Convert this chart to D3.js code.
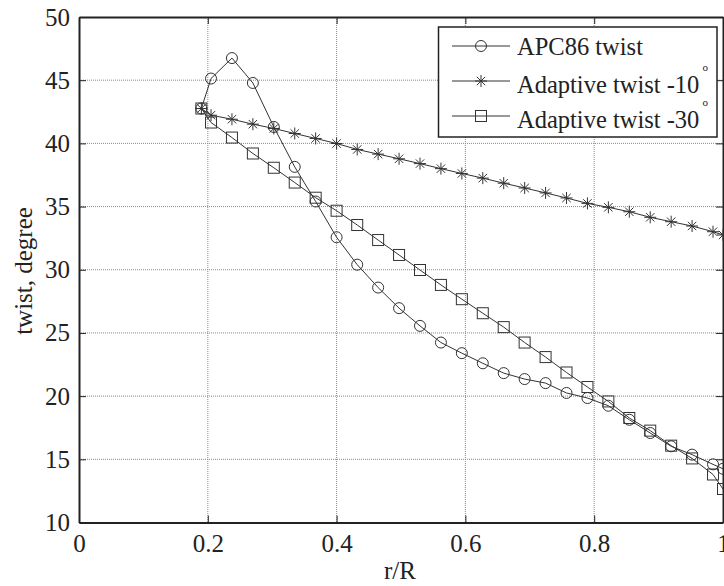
<!DOCTYPE html>
<html>
<head>
<meta charset="utf-8">
<script src="https://cdn.jsdelivr.net/npm/d3@7"></script>
<style>
  body { margin: 0; background: #fff; }
  text { font-family: "Liberation Serif", "Times New Roman", serif; fill: #222; }
</style>
</head>
<body>
<svg id="chart" width="724" height="586"></svg>
<script>
// r/R stations
const rR = [0.19, 0.205, 0.2375, 0.27, 0.3025, 0.335, 0.3675, 0.4, 0.432, 0.4645, 0.497, 0.5295, 0.562,
  0.5945, 0.627, 0.6595, 0.692, 0.7245, 0.757, 0.7895, 0.822, 0.8545, 0.887, 0.9195, 0.952, 0.9845, 1.0];

// twist, degree
const apc86 = [42.76, 45.13, 46.75, 44.78, 41.3, 38.14, 35.4, 32.57, 30.4, 28.59, 26.96, 25.56, 24.24,
  23.4, 22.6, 21.82, 21.35, 21.03, 20.25, 19.85, 19.24, 18.13, 17.08, 16.03, 15.37, 14.6, 14.25];
const adaptive10 = [42.76, 42.23, 41.91, 41.52, 41.18, 40.78, 40.39, 39.99, 39.52, 39.15, 38.78, 38.4, 38.0,
  37.62, 37.25, 36.85, 36.47, 36.08, 35.68, 35.25, 34.94, 34.59, 34.15, 33.8, 33.46, 33.01, 32.75];
const adaptive30 = [42.76, 41.65, 40.46, 39.2, 38.07, 36.9, 35.7, 34.67, 33.54, 32.35, 31.17, 29.98, 28.8,
  27.67, 26.56, 25.46, 24.24, 23.09, 21.87, 20.72, 19.58, 18.27, 17.27, 16.08, 15.07, 13.8, 12.65];

const seriesNames = ["APC86 twist", "Adaptive twist -10", "Adaptive twist -30"];
const seriesMarkers = ["circle", "star", "square"];
const xTicks = [0, 0.2, 0.4, 0.6, 0.8, 1];
const yTicks = [10, 15, 20, 25, 30, 35, 40, 45, 50];

const margin = {top: 17, right: 1, bottom: 63, left: 79};
const width = 724 - margin.left - margin.right;
const height = 586 - margin.top - margin.bottom - 0.5;

const svg = d3.select("#chart");
const g = svg.append("g").attr("transform", "translate(" + margin.left + "," + margin.top + ")");

const x = d3.scaleLinear().domain([0, 1]).range([0, width]);
const y = d3.scaleLinear().domain([10, 50]).range([height, 0]);

// grid
g.append("g").selectAll("line")
  .data(xTicks.slice(1, -1)).enter().append("line")
  .attr("x1", d => x(d)).attr("x2", d => x(d))
  .attr("y1", 0).attr("y2", height)
  .attr("stroke", "#8a8a8a").attr("stroke-dasharray", "1,1");
g.append("g").selectAll("line")
  .data(yTicks.slice(1, -1)).enter().append("line")
  .attr("y1", d => y(d)).attr("y2", d => y(d))
  .attr("x1", 0).attr("x2", width)
  .attr("stroke", "#8a8a8a").attr("stroke-dasharray", "1,1");

// axes, ticks inside on all four sides
const tick = 7;
const axes = g.append("g");
axes.append("g").attr("transform", "translate(0," + height + ")")
  .call(d3.axisBottom(x).tickValues(xTicks).tickSizeInner(-tick).tickSizeOuter(0).tickPadding(12).tickFormat(d3.format("")));
axes.append("g")
  .call(d3.axisTop(x).tickValues(xTicks).tickSizeInner(-tick).tickSizeOuter(0).tickFormat(""));
axes.append("g")
  .call(d3.axisLeft(y).tickValues(yTicks).tickSizeInner(-tick).tickSizeOuter(0).tickPadding(9));
axes.append("g").attr("transform", "translate(" + width + ",0)")
  .call(d3.axisRight(y).tickValues(yTicks).tickSizeInner(-tick).tickSizeOuter(0).tickFormat(""));
axes.selectAll(".domain").attr("stroke", "#222").attr("stroke-width", 2);
axes.selectAll(".tick line").attr("stroke", "#222");
axes.selectAll(".tick text")
  .style("font-family", "'Liberation Serif', serif").style("font-size", "25px").attr("fill", "#222");

// axis labels
svg.append("text")
  .attr("x", 400).attr("y", 579)
  .attr("text-anchor", "middle")
  .style("font-size", "25px")
  .text("r/R");
svg.append("text")
  .attr("transform", "translate(32," + 271 + ") rotate(-90)")
  .attr("text-anchor", "middle")
  .style("font-size", "25px")
  .text("twist, degree");

// markers
function drawMarker(sel, type, cx, cy) {
  if (type === "circle") {
    sel.append("circle").attr("cx", cx).attr("cy", cy).attr("r", 5.5)
      .attr("fill", "none").attr("stroke", "#333").attr("stroke-width", 1);
  } else if (type === "square") {
    sel.append("rect").attr("x", cx - 5.5).attr("y", cy - 5.5).attr("width", 11).attr("height", 11)
      .attr("fill", "none").attr("stroke", "#333").attr("stroke-width", 1);
  } else {
    const s = 6;
    const p = "M" + (cx - s) + "," + cy + "h" + 2 * s +
      "M" + cx + "," + (cy - s) + "v" + 2 * s +
      "M" + (cx - s * 0.7) + "," + (cy - s * 0.7) + "l" + 1.4 * s + "," + 1.4 * s +
      "M" + (cx - s * 0.7) + "," + (cy + s * 0.7) + "l" + 1.4 * s + "," + (-1.4 * s);
    sel.append("path").attr("d", p).attr("fill", "none").attr("stroke", "#333").attr("stroke-width", 1);
  }
}

const line = d3.line().x(d => x(d[0])).y(d => y(d[1]));
const allSeries = [apc86, adaptive10, adaptive30];

allSeries.forEach((vals, i) => {
  const pts = rR.map((r, j) => [r, vals[j]]);
  const sg = g.append("g");
  sg.append("path").datum(pts)
    .attr("d", line)
    .attr("fill", "none").attr("stroke", "#333").attr("stroke-width", 1);
  pts.forEach(p => drawMarker(sg, seriesMarkers[i], x(p[0]), y(p[1])));
});

// legend
const legend = svg.append("g");
legend.append("rect")
  .attr("x", 438.5).attr("y", 27).attr("width", 278.5).attr("height", 110)
  .attr("fill", "#fff").attr("stroke", "#222").attr("stroke-width", 1.5);

const rowY = [46, 81, 116];
const textY = [55, 93, 128];
seriesNames.forEach((name, i) => {
  legend.append("line")
    .attr("x1", 452).attr("x2", 510).attr("y1", rowY[i]).attr("y2", rowY[i])
    .attr("stroke", "#333").attr("stroke-width", 1);
  drawMarker(legend, seriesMarkers[i], 481, rowY[i]);
  const t = legend.append("text")
    .attr("x", 517).attr("y", textY[i])
    .style("font-size", "24.5px")
    .text(name);
  if (i > 0) {
    t.append("tspan")
      .attr("dx", 3).attr("dy", -22)
      .style("font-size", "11px")
      .text("o");
  }
});
</script>
</body>
</html>
